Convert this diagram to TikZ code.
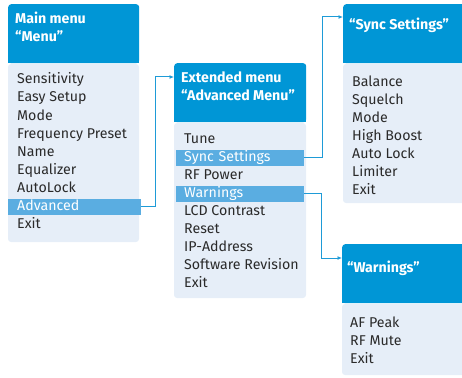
\documentclass[tikz,border=0pt]{standalone}
\usepackage{fontspec}
\setmainfont{Fira Sans}
\usetikzlibrary{arrows.meta}
\definecolor{hdr}{HTML}{0096D6}
\definecolor{hlc}{HTML}{5AADE1}
\definecolor{bodyc}{HTML}{E6EEF8}
\definecolor{txt}{HTML}{2A2A2A}
\definecolor{connc}{HTML}{1E9BD7}
\begin{document}
\begin{tikzpicture}[x=1pt,y=-1pt,
  hdrbox/.style={fill=hdr, rounded corners=3pt, inner sep=0pt, anchor=north west},
  bodybox/.style={fill=bodyc, rounded corners=3pt},
  item/.style={anchor=base west, inner sep=0pt, text=txt, font=\fontsize{14.2}{16}\selectfont},
  hlitem/.style={anchor=base west, fill=hlc, text=white, inner ysep=1.5pt, text height=10pt, text depth=3pt, align=left, font=\fontsize{14.2}{16}\selectfont},
  htxt/.style={anchor=base west, inner sep=0pt, text=white, font=\fontsize{14.2}{16}\selectfont\bfseries},
  connector/.style={draw=connc, line width=1pt, -{Latex[length=4.5pt,width=4pt]}}
]
\useasboundingbox (0,0) rectangle (462,377);

% ---- Box 1: Main menu
\fill[bodybox] (8,64) rectangle (139,242);
\node[hdrbox, minimum width=131pt, minimum height=59pt] (h1) at (8,4) {};
\fill[hdr] (8,58) rectangle (139,63);
\node[htxt] (h1a) at (15,24) {Main menu};
\node[htxt] (h1b) at (15,42) {“Menu”};
\node[item] (m1) at (17,84) {Sensitivity};
\node[item] (m2) at (17,102) {Easy Setup};
\node[item] (m3) at (17,120) {Mode};
\node[item] (m4) at (17,138) {Frequency Preset};
\node[item] (m5) at (17,156) {Name};
\node[item] (m6) at (17,174) {Equalizer};
\node[item] (m7) at (17,192) {AutoLock};
\node[hlitem, inner xsep=9pt, minimum width=133pt, text width=115pt] (adv) at (8,210) {Advanced};
\node[item] (m9) at (17,228) {Exit};

% ---- Box 2: Extended menu
\fill[bodybox] (174,123) rectangle (306,298);
\node[hdrbox, minimum width=132pt, minimum height=59pt] (h2) at (174,63) {};
\fill[hdr] (174,117) rectangle (306,122);
\node[htxt] (h2a) at (181,82) {Extended menu};
\node[htxt] (h2b) at (181,100) {“Advanced Menu”};
\node[item] (e1) at (184,143) {Tune};
\node[hlitem, inner xsep=8pt, minimum width=128pt, text width=112pt] (sync) at (176,161) {Sync Settings};
\node[item] (e3) at (184,179) {RF Power};
\node[hlitem, inner xsep=8pt, minimum width=128pt, text width=112pt] (warn) at (176,197) {Warnings};
\node[item] (e5) at (184,215) {LCD Contrast};
\node[item] (e6) at (184,233) {Reset};
\node[item] (e7) at (184,251) {IP-Address};
\node[item] (e8) at (184,269) {Software Revision};
\node[item] (e9) at (184,287) {Exit};

% ---- Box 3: Sync Settings
\fill[bodybox] (343,64) rectangle (465,203);
\node[hdrbox, minimum width=122pt, minimum height=59pt] (h3) at (343,4) {};
\fill[hdr] (343,58) rectangle (465,63);
\node[htxt] (h3a) at (349,30) {“Sync Settings”};
\node[item] (s1) at (352,86) {Balance};
\node[item] (s2) at (352,104) {Squelch};
\node[item] (s3) at (352,122) {Mode};
\node[item] (s4) at (352,140) {High Boost};
\node[item] (s5) at (352,158) {Auto Lock};
\node[item] (s6) at (352,176) {Limiter};
\node[item] (s7) at (352,194) {Exit};

% ---- Box 4: Warnings
\fill[bodybox] (342,304) rectangle (465,375);
\node[hdrbox, minimum width=123pt, minimum height=59pt] (h4) at (342,244) {};
\fill[hdr] (342,298) rectangle (465,303);
\node[htxt] (h4a) at (347,272) {“Warnings”};
\node[item] (w1) at (350,327) {AF Peak};
\node[item] (w2) at (350,345) {RF Mute};
\node[item] (w3) at (350,363) {Exit};

% ---- Connectors
\draw[connector] (adv.east) -- ++(14,0) |- ([yshift=-14pt]h2.north west);
\draw[connector] (sync.east) -- ++(18,0) |- ([yshift=-13pt]h3.north west);
\draw[connector] (warn.east) -- ++(17,0) |- ([yshift=-14pt]h4.north west);
\end{tikzpicture}
\end{document}
